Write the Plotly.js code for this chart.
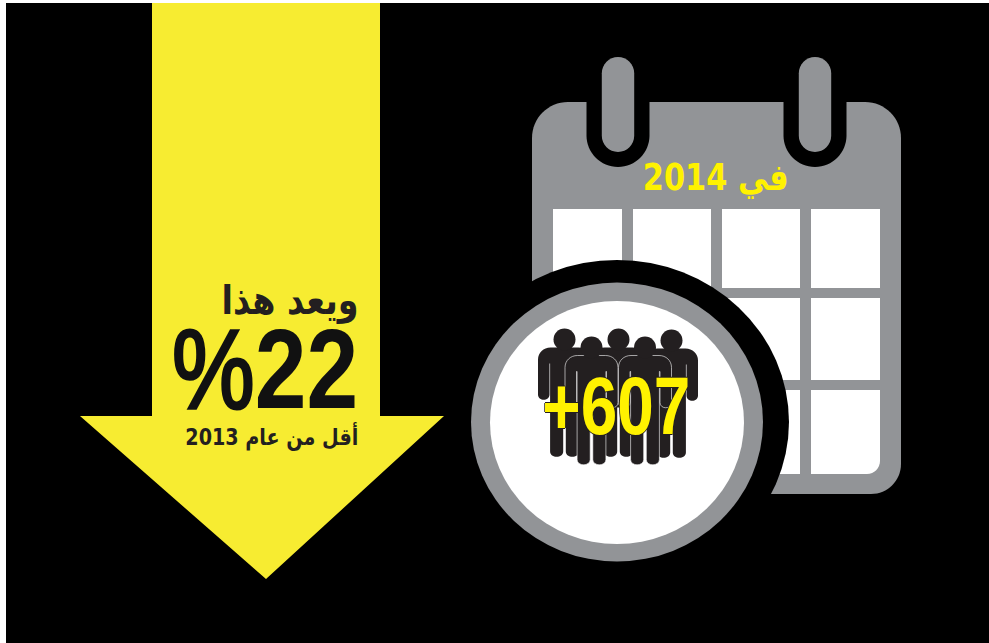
<!DOCTYPE html>
<html><head><meta charset="utf-8">
<script src="https://cdn.plot.ly/plotly-3.0.1.min.js"></script>
<style>html,body{margin:0;padding:0;background:#fff}#c{width:989px;height:643px}</style>
</head><body><div id="c"></div>
<script>
const headline = "ويعد هذا";
const percentLabel = "%<b>22</b>";
const comparison = "\u202Bأقل من عام 2013\u202C";
const yearLabel = "\u202Bفي 2014\u202C";
const peopleLabel = "+607";

const BLACK="#000000", GRAY="#929497", YELLOW="#F7EC31", TXT="#231F20", YTXT="#FFF200", WHITE="#FFFFFF";
const AR='"DejaVu Sans","Noto Sans",sans-serif', SANS='"Liberation Sans",sans-serif';

const shapes=[];
const p=(path,fill,line)=>shapes.push({type:"path",path,fillcolor:fill,line:line||{width:0},xref:"x",yref:"y",layer:"above"});
const ell=(cx,cy,rx,ry,fill)=>shapes.push({type:"circle",x0:cx-rx,x1:cx+rx,y0:cy-ry,y1:cy+ry,fillcolor:fill,line:{width:0},xref:"x",yref:"y",layer:"above"});
const K=0.5523;
function rrect(x0,y0,x1,y1,tl,tr,br,bl){
  return `M${x0+tl},${y0}L${x1-tr},${y0}C${x1-tr+K*tr},${y0} ${x1},${y0+tr-K*tr} ${x1},${y0+tr}`+
  `L${x1},${y1-br}C${x1},${y1-br+K*br} ${x1-br+K*br},${y1} ${x1-br},${y1}`+
  `L${x0+bl},${y1}C${x0+bl-K*bl},${y1} ${x0},${y1-bl+K*bl} ${x0},${y1-bl}`+
  `L${x0},${y0+tl}C${x0},${y0+tl-K*tl} ${x0+tl-K*tl},${y0} ${x0+tl},${y0}Z`;
}
// background
p(`M6,3L989,3L989,643L6,643Z`,BLACK);
// calendar
p(rrect(532,102,901,494,36,36,30,30),GRAY);
[618,815].forEach(cx=>{
  p(rrect(cx-31.5,90,cx+31.5,167,0,0,31.5,31.5),BLACK);
  p(rrect(cx-16.2,57,cx+16.2,152,16.2,16.2,16.2,16.2),GRAY);
});
const colX=[[553,622],[633,711],[722,800],[811,880]], rowY=[[209,288],[298,380],[390,474]];
rowY.forEach((r,ri)=>colX.forEach((c,ci)=>{
  const rad=(ri===2&&ci===3)?13:0;
  p(rrect(c[0],r[0],c[1],r[1],0,0,rad,0),WHITE);
}));
// big badge
ell(617,422,172,162,BLACK);
ell(617,422,146,139.5,GRAY);
ell(617,422.5,127,121.5,WHITE);
// arrow
p(`M152,3L380,3L380,416L444,416L266,579L80,416L152,416Z`,YELLOW);
// people
function person(hx,hy,outline){
  const X=v=>hx+v, Y=v=>hy+v;
  let d=`M${X(-14)},${Y(8)}L${X(14)},${Y(8)}C${X(21)},${Y(8)} ${X(26.5)},${Y(13)} ${X(26.5)},${Y(20)}`+
    `L${X(26.5)},${Y(55)}C${X(26.5)},${Y(62)} ${X(15)},${Y(62)} ${X(15)},${Y(55)}L${X(15)},${Y(24)}L${X(14.4)},${Y(24)}`+
    `L${X(14.4)},${Y(112)}C${X(14.4)},${Y(119)} ${X(1.3)},${Y(119)} ${X(1.3)},${Y(112)}L${X(1.3)},${Y(68)}L${X(-1.3)},${Y(68)}`+
    `L${X(-1.3)},${Y(112)}C${X(-1.3)},${Y(119)} ${X(-14.4)},${Y(119)} ${X(-14.4)},${Y(112)}L${X(-14.4)},${Y(24)}L${X(-15)},${Y(24)}`+
    `L${X(-15)},${Y(55)}C${X(-15)},${Y(62)} ${X(-26.5)},${Y(62)} ${X(-26.5)},${Y(55)}L${X(-26.5)},${Y(20)}C${X(-26.5)},${Y(13)} ${X(-21)},${Y(8)} ${X(-14)},${Y(8)}Z`;
  p(d,TXT,outline?{width:0.6,color:WHITE}:{width:0});
  ell(hx,hy,11,11,TXT);
}
person(564.5,339.5,false);
person(618.5,339.5,false);
person(671.5,340.5,false);
person(591.5,347.5,true);
person(645,347.5,true);

const ann=(text,x,y,size,color,family,bold,extra)=>({text:bold?`<b>${text}</b>`:text,x,y,xref:"x",yref:"y",showarrow:false,
  font:Object.assign({size,color,family},extra||{}),xanchor:"center",yanchor:"middle",borderpad:0,borderwidth:0});
const annotations=[
  ann(headline,289.5,300,40,TXT,AR,true),
  ann(percentLabel,265,368,114,"#111111",SANS,false),
  ann(comparison,271.5,436,23,TXT,AR,true),
  ann(yearLabel,716,177,37,YTXT,AR,true),
  ann(peopleLabel,616,405.5,82,YTXT,SANS,true,{shadow:"1px 0 #231F20, -1px 0 #231F20, 0 1px #231F20, 0 -1px #231F20"})
];
const fittedWidths=[137,186,173,146,148];
Plotly.newPlot("c",[],{
  width:989,height:643,margin:{l:0,r:0,t:0,b:0},
  paper_bgcolor:WHITE,plot_bgcolor:WHITE,showlegend:false,
  xaxis:{range:[0,989],visible:false,fixedrange:true},
  yaxis:{range:[643,0],visible:false,fixedrange:true},
  shapes,annotations
},{displayModeBar:false,staticPlot:true}).then(()=>{
  const texts=document.querySelectorAll("#c .annotation-text");
  texts.forEach((t,i)=>{
    t.setAttribute("textLength",fittedWidths[i]);
    t.setAttribute("lengthAdjust","spacingAndGlyphs");
  });
  const pct=texts[1];
  pct.style.stroke="#111111";
  pct.style.strokeWidth="3px";
  pct.querySelectorAll("tspan").forEach(s=>{s.style.strokeWidth="0px";});
});
</script></body></html>
